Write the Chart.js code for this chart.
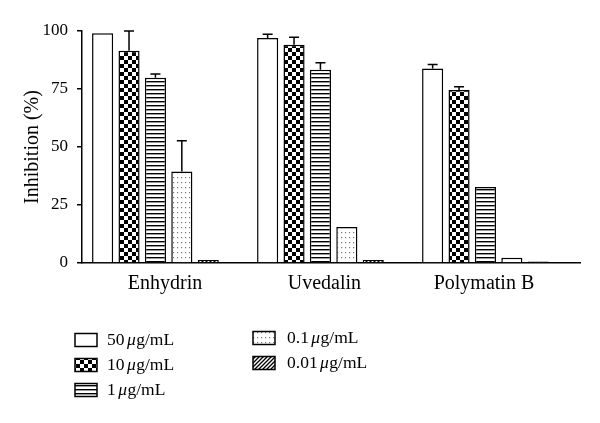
<!DOCTYPE html>
<html>
<head>
<meta charset="utf-8">
<script src="https://cdn.jsdelivr.net/npm/chart.js@4/dist/chart.umd.min.js"></script>
<style>
	html, body { margin: 0; padding: 0; background: #fff; }
	#wrap { width: 600px; height: 423px; }
</style>
</head>
<body>
<div id="wrap"><canvas id="bar-graph"></canvas></div>
<script>
// compounds on the x axis
const categories = ['Enhydrin', 'Uvedalin', 'Polymatin B'];
// concentrations (legend), unit drawn with italic mu
const concentrations = ['50', '10', '1', '0.1', '0.01'];
const unitMu = '\u03bc';
const unitRest = 'g/mL';
const yTicks = [0, 25, 50, 75, 100];

// mean inhibition (%) per concentration
const values50 = [99, 97, 83.8];
const values10 = [91.5, 94.1, 74.6];
const values1 = [79.9, 83.3, 32.8];
const values01 = [39.4, 15.5, 2.3];
const values001 = [1.3, 1.3, 0.6];

// upper error (SD)
const err50 = [0, 1.6, 1.8];
const err10 = [8.5, 3.2, 1.4];
const err1 = [1.6, 3.0, 0];
const err01 = [13.3, 0, 0];
const err001 = [0, 0, 0];

const makePattern = (kind) => {
	if (kind == 'plain') {
		return '#ffffff';
	}
	let c = document.createElement('canvas');
	let g = c.getContext('2d');
	if (kind == 'checker') {
		c.width = 8; c.height = 8;
		g.fillStyle = '#fff'; g.fillRect(0, 0, 8, 8);
		g.fillStyle = '#000';
		g.fillRect(0, 0, 4, 4);
		g.fillRect(4, 4, 4, 4);
	} else if (kind == 'hlines') {
		c.width = 4; c.height = 4;
		g.fillStyle = '#fff'; g.fillRect(0, 0, 4, 4);
		g.fillStyle = '#000';
		g.fillRect(0, 1, 4, 1.4);
	} else if (kind == 'dots') {
		c.width = 4; c.height = 5;
		g.fillStyle = '#fff'; g.fillRect(0, 0, 4, 5);
		g.fillStyle = '#777';
		g.fillRect(1, 2, 1.2, 1.2);
	} else if (kind == 'diag') {
		c.width = 4; c.height = 4;
		g.fillStyle = '#fff'; g.fillRect(0, 0, 4, 4);
		g.strokeStyle = '#000';
		g.lineWidth = 1.3;
		g.beginPath();
		g.moveTo(-1, 5); g.lineTo(5, -1);
		g.moveTo(-1, 1); g.lineTo(1, -1);
		g.moveTo(3, 5); g.lineTo(5, 3);
		g.stroke();
	}
	return g.createPattern(c, 'repeat');
};

const seriesValues = [values50, values10, values1, values01, values001];
const seriesErrors = [err50, err10, err1, err01, err001];
const fills = ['plain', 'checker', 'hlines', 'dots', 'diag'];

let datasets = [];
for (let i = 0; i < concentrations.length; i++) {
	let dataset = {};
	dataset.label = concentrations[i] + ' ' + unitMu + unitRest;
	dataset.data = seriesValues[i];
	dataset.errors = seriesErrors[i];
	dataset.backgroundColor = makePattern(fills[i]);
	dataset.borderColor = '#000';
	dataset.borderWidth = 1.5;
	datasets.push(dataset);
}

const serif = '"Liberation Serif", "DejaVu Serif", serif';

// upper error bars with a cap
const errorBars = {
	id: 'errorBars',
	afterDatasetsDraw(chart) {
		const ctx = chart.ctx;
		const yScale = chart.scales.y;
		ctx.save();
		ctx.strokeStyle = '#000';
		ctx.lineWidth = 1.5;
		chart.data.datasets.forEach((ds, di) => {
			const meta = chart.getDatasetMeta(di);
			meta.data.forEach((bar, idx) => {
				const e = ds.errors[idx];
				if (!e) return;
				const yTop = yScale.getPixelForValue(ds.data[idx] + e);
				const yVal = yScale.getPixelForValue(ds.data[idx]);
				ctx.beginPath();
				ctx.moveTo(bar.x, yVal);
				ctx.lineTo(bar.x, yTop);
				ctx.moveTo(bar.x - 5, yTop);
				ctx.lineTo(bar.x + 5, yTop);
				ctx.stroke();
			});
		});
		ctx.restore();
	}
};

// two column legend below the plot
const patternLegend = {
	id: 'patternLegend',
	afterDraw(chart) {
		const ctx = chart.ctx;
		const cols = [{ box: 75, text: 107, y: [340, 365, 390] }, { box: 253, text: 287, y: [338, 363] }];
		ctx.save();
		ctx.textBaseline = 'middle';
		chart.data.datasets.forEach((ds, i) => {
			const col = i < 3 ? cols[0] : cols[1];
			const y = col.y[i < 3 ? i : i - 3];
			ctx.fillStyle = ds.backgroundColor;
			ctx.fillRect(col.box, y - 6.5, 22, 13);
			ctx.strokeStyle = '#000';
			ctx.lineWidth = 1.5;
			ctx.strokeRect(col.box, y - 6.5, 22, 13);
			ctx.fillStyle = '#000';
			let x = col.text;
			ctx.font = '17.5px ' + serif;
			let part = concentrations[i] + ' ';
			ctx.fillText(part, x, y);
			x += ctx.measureText(part).width - 2;
			ctx.font = 'italic 17.5px ' + serif;
			ctx.fillText(unitMu, x, y);
			x += ctx.measureText(unitMu).width + 0.5;
			ctx.font = '17.5px ' + serif;
			ctx.fillText(unitRest, x, y);
		});
		ctx.restore();
	}
};

const ctx = document.getElementById('bar-graph').getContext('2d');

// the original labels sit a little off the group centres
const labelShift = [0.058, 0.024, -0.009];
// Chart.js sizes bars from the smallest tick gap too, so compensate
let minTickGap = 1;
for (let i = 1; i < labelShift.length; i++) {
	minTickGap = Math.min(minTickGap, 1 + labelShift[i] - labelShift[i - 1]);
}

const barGraph = new Chart(ctx, {
	type: 'bar',
	data: {
		// index positions on a linear x axis, named through the tick callback
		labels: categories.map((c, i) => i),
		datasets: datasets
	},
	options: {
		responsive: true,
		maintainAspectRatio: false,
		animation: false,
		categoryPercentage: 0.8 / minTickGap,
		barPercentage: 0.8,
		layout: {
			padding: { top: 31, right: 20, left: 0, bottom: 0 }
		},
		plugins: {
			legend: { display: false },
			tooltip: { enabled: false }
		},
		scales: {
			x: {
				type: 'linear',
				offset: false,
				min: -0.445,
				max: 2.573,
				afterBuildTicks: (scale) => { scale.ticks = categories.map((c, i) => ({ value: i + labelShift[i] })); },
				grid: { display: false, offset: false },
				border: { display: true, color: '#000', width: 1.5 },
				ticks: {
					color: '#000',
					padding: 1,
					autoSkip: false,
					maxRotation: 0,
					font: { family: serif, size: 20 },
					callback: (v) => categories[Math.round(v)]
				},
				afterFit: (scale) => { scale.height = 160; }
			},
			y: {
				min: 0,
				max: 100,
				afterBuildTicks: (scale) => { scale.ticks = yTicks.map(v => ({ value: v })); },
				grid: { drawOnChartArea: false, drawTicks: true, tickLength: 5, color: '#000', lineWidth: 1.5 },
				border: { display: true, color: '#000', width: 1.5 },
				ticks: { color: '#000', padding: 9, font: { family: serif, size: 17 } },
				title: {
					display: true,
					text: 'Inhibition (%)',
					color: '#000',
					padding: { top: 21, bottom: 0 },
					font: { family: serif, size: 20 }
				},
				afterFit: (scale) => { scale.width = 82; }
			}
		}
	},
	plugins: [errorBars, patternLegend]
});
</script>
</body>
</html>
